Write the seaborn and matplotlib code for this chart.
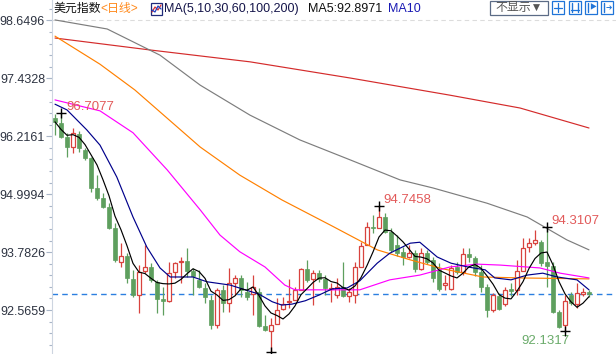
import numpy as np
import pandas as pd
import matplotlib
matplotlib.use('Agg')
import matplotlib.pyplot as plt
import seaborn as sns
from matplotlib.ticker import AutoMinorLocator
from matplotlib.patches import Rectangle
from matplotlib.lines import Line2D

# daily candles, US dollar index
opens = [96.60, 96.50, 96.20, 95.99, 96.27, 95.93, 95.76, 95.13, 94.92, 94.73,
         94.29, 93.58, 93.70, 93.22, 92.88, 93.39, 93.47, 93.16, 92.80, 92.76,
         93.37, 93.57, 93.60, 93.39, 93.20, 93.03, 92.78, 92.25, 92.99, 92.71,
         93.13, 93.24, 92.95, 92.90, 92.95, 92.23, 92.13, 92.27, 92.59, 92.74,
         92.78, 92.99, 93.43, 93.22, 93.34, 93.22, 93.01, 92.88, 93.05, 92.86,
         92.88, 93.47, 93.93, 94.31, 94.29, 94.52, 94.20, 93.93, 93.79, 93.68,
         93.76, 93.43, 93.76, 93.62, 93.41, 93.09, 93.01, 93.47, 93.37, 93.74,
         93.66, 93.37, 93.05, 92.57, 92.86, 92.69, 93.01, 92.99, 93.39, 93.89,
         93.97, 93.99, 93.58, 93.49, 92.52, 92.25, 92.88, 92.69, 92.90, 92.95]
highs = [96.68, 96.7077, 96.29, 96.39, 96.33, 95.97, 95.78, 95.40, 95.03, 94.81,
         94.40, 93.97, 93.76, 93.41, 93.51, 93.93, 93.55, 93.20, 93.05, 93.58,
         93.58, 93.68, 93.87, 93.45, 93.41, 93.13, 92.88, 93.03, 93.09, 93.45,
         93.30, 93.30, 93.16, 93.30, 93.03, 92.46, 92.40, 92.82, 92.84, 93.22,
         93.05, 93.45, 93.62, 93.41, 93.41, 93.30, 93.13, 93.24, 93.58, 93.03,
         93.58, 93.99, 94.42, 94.56, 94.7458, 94.60, 94.29, 94.14, 93.89, 93.93,
         93.83, 93.87, 93.83, 93.68, 93.55, 93.30, 93.51, 93.58, 93.87, 93.87,
         93.70, 93.51, 93.11, 92.92, 92.92, 93.05, 93.13, 93.62, 94.08, 94.08,
         94.25, 94.04, 94.3107, 93.58, 92.57, 92.88, 92.95, 93.13, 93.03, 92.99]
lows = [96.24, 96.18, 95.78, 95.86, 95.89, 95.72, 95.05, 94.88, 94.71, 94.27,
        93.58, 93.47, 93.13, 92.84, 92.50, 93.34, 93.16, 92.50, 92.46, 92.74,
        93.24, 93.13, 93.26, 92.88, 93.03, 92.71, 92.17, 92.19, 92.52, 92.52,
        92.88, 92.84, 92.78, 92.46, 92.21, 92.13, 91.69, 92.27, 92.57, 92.61,
        92.78, 92.99, 93.16, 92.67, 93.16, 92.88, 92.74, 92.82, 92.84, 92.74,
        92.71, 93.47, 93.93, 94.18, 94.29, 94.18, 93.79, 93.70, 93.51, 93.66,
        93.37, 93.41, 93.53, 93.16, 92.97, 92.99, 92.99, 93.32, 93.30, 93.58,
        93.28, 92.95, 92.42, 92.52, 92.57, 92.65, 92.86, 92.88, 93.39, 93.79,
        93.93, 93.49, 93.05, 92.50, 92.19, 92.1317, 92.67, 92.61, 92.86, 92.84]
closes = [96.52, 96.20, 95.99, 96.29, 95.97, 95.76, 95.13, 94.92, 94.73, 94.29,
          93.62, 93.70, 93.24, 92.88, 93.37, 93.47, 93.20, 92.80, 92.76, 93.34,
          93.55, 93.60, 93.39, 93.28, 93.05, 92.84, 92.25, 92.99, 92.71, 93.13,
          93.24, 92.99, 92.84, 93.05, 92.23, 92.15, 92.25, 92.57, 92.69, 92.76,
          92.99, 93.43, 93.20, 93.34, 93.22, 93.03, 93.03, 93.05, 92.86, 92.95,
          93.47, 93.91, 94.31, 94.29, 94.52, 94.20, 93.83, 93.76, 93.68, 93.76,
          93.43, 93.76, 93.58, 93.24, 93.01, 93.13, 93.45, 93.37, 93.74, 93.68,
          93.37, 93.05, 92.57, 92.88, 92.59, 92.99, 92.97, 93.39, 93.87, 93.97,
          94.04, 93.55, 93.49, 92.52, 92.21, 92.76, 92.71, 92.92, 92.95, 92.8971]

# moving-average curves read at points along the chart (candle index, value)
ma10_idx = [0, 2, 5.3, 7.5, 10.3, 13, 15.3, 17.5, 19.2, 23, 25.3, 29.2, 31.2, 34,
            36.2, 37.8, 39.5, 41.7, 44, 46.2, 48.7, 50.8, 53.7, 55.8, 59.2, 60.8,
            63.7, 66, 68.8, 71.7, 73.3, 76, 78.7, 81.3, 83.7, 87, 89]
ma10_val = [96.89, 96.77, 96.35, 96.03, 95.36, 94.52, 93.89, 93.45, 93.26, 93.26,
            93.16, 93.09, 93.01, 92.90, 92.74, 92.67, 92.69, 92.76, 92.88, 93.01,
            93.03, 93.18, 93.55, 93.76, 93.97, 93.99, 93.68, 93.55, 93.47, 93.41,
            93.24, 93.20, 93.30, 93.34, 93.26, 93.20, 92.99]
ma30_idx = [0, 7.5, 13, 18.7, 24.2, 27.5, 30.8, 35, 38.3, 40, 50.8, 55.8, 60.8,
            65.8, 70.3, 74.2, 80.8, 84.2, 89]
ma30_val = [96.98, 96.75, 96.29, 95.51, 94.67, 94.14, 93.79, 93.47, 93.09, 92.99,
            92.99, 93.20, 93.30, 93.47, 93.53, 93.51, 93.45, 93.34, 93.24]
ma60_idx = [0, 7.5, 13.3, 24.2, 30.8, 37.8, 46.2, 53.7, 59.2, 64.7, 71.3, 77.5, 89]
ma60_val = [98.32, 97.73, 97.19, 95.99, 95.40, 94.88, 94.33, 93.83, 93.62, 93.43,
            93.26, 93.24, 93.22]
ma100_idx = [0, 8.7, 17.5, 24.2, 32.5, 40.8, 49.2, 57.5, 63, 72, 78.7, 85.3, 89]
ma100_val = [98.66, 98.47, 97.92, 97.29, 96.66, 96.14, 95.72, 95.30, 95.13, 94.81,
             94.52, 94.04, 93.83]
ma200_idx = [0, 15.8, 32.5, 49.2, 65.8, 77.5, 89]
ma200_val = [98.28, 98.03, 97.78, 97.44, 97.08, 96.81, 96.39]

y_ticks = [98.6496, 97.4328, 96.2161, 94.9994, 93.7826, 92.5659]
last_price = 92.8971
mark_idx = [1, 54, 82, 85, 36]
mark_val = [96.7077, 94.7458, 94.3107, 92.1317, 91.69]

RED = '#d8433e'
GREEN = '#5e9f5e'

sns.set_style('white')
plt.rcParams['font.family'] = ['Liberation Sans', 'Noto Sans CJK SC', 'DejaVu Sans']

W, H = 616, 354
fig = plt.figure(figsize=(W / 100, H / 100), dpi=100)
ax = fig.add_axes([52 / W, 0, (W - 52) / W, 1])

df = pd.DataFrame({'i': np.arange(len(closes)), 'open': opens, 'high': highs,
                   'low': lows, 'close': closes})
df['ma5'] = df['close'].rolling(5, min_periods=1).mean()
up = df['close'] >= df['open']

# candles
ax.vlines(df['i'], df['low'], df['high'], colors=np.where(up, RED, GREEN),
          lw=0.9, zorder=2)
bottom = np.minimum(df['open'], df['close'])
height = np.maximum((df['close'] - df['open']).abs(), 0.015)
ax.bar(df['i'][up], height[up], bottom=bottom[up], width=0.78,
       facecolor='white', edgecolor=RED, lw=0.9, zorder=2.5)
ax.bar(df['i'][~up], height[~up], bottom=bottom[~up], width=0.78,
       facecolor=GREEN, edgecolor=GREEN, lw=0.5, zorder=2.5)

# moving averages
lw = 0.85
sns.lineplot(x=ma200_idx, y=ma200_val, ax=ax, color='#d42b2b', lw=lw, zorder=3)
sns.lineplot(x=ma100_idx, y=ma100_val, ax=ax, color='#7d7d7d', lw=lw, zorder=3)
sns.lineplot(x=ma60_idx, y=ma60_val, ax=ax, color='#ff8000', lw=lw, zorder=3)
sns.lineplot(x=ma30_idx, y=ma30_val, ax=ax, color='#ff00ff', lw=lw, zorder=3)
sns.lineplot(x=ma10_idx, y=ma10_val, ax=ax, color='#00008b', lw=lw, zorder=3)
sns.lineplot(data=df, x='i', y='ma5', ax=ax, color='black', lw=lw, zorder=3.2)

ax.axhline(last_price, color='#2b7fe0', lw=1, ls=(0, (4, 3)), zorder=1.5)
ax.axhline(y_ticks[0], color='#dcdcdc', lw=0.8, ls=(0, (4, 3)), zorder=1)

# extreme markers and labels
ax.plot(mark_idx, mark_val, '+', color='black', ms=7, mew=1, zorder=4)
lab_style = dict(textcoords='offset points', fontsize=9.5, va='center')
ax.annotate(f'{mark_val[0]:.4f}', (mark_idx[0], mark_val[0]), xytext=(3.6, 4.3),
            ha='left', color='#e25a5a', **lab_style)
ax.annotate(f'{mark_val[1]:.4f}', (mark_idx[1], mark_val[1]), xytext=(3, 4.6),
            ha='left', color='#e25a5a', **lab_style)
ax.annotate(f'{mark_val[2]:.4f}', (mark_idx[2], mark_val[2]), xytext=(3.4, 4.2),
            ha='left', color='#e25a5a', **lab_style)
ax.annotate(f'{mark_val[3]:.4f}', (mark_idx[3], mark_val[3]), xytext=(3, -7.2),
            ha='right', color='#6aab6a', **lab_style)

ax.set_xlim(-0.5, 93.5)
ax.set_ylim(91.642, 99.079)
ax.set_yticks(y_ticks)
ax.set_yticklabels([f'{t:.4f}' for t in y_ticks])
ax.yaxis.set_minor_locator(AutoMinorLocator(5))
ax.set_xticks([])
ax.set_xlabel('')
ax.set_ylabel('')
ax.tick_params(axis='y', which='major', length=4, width=0.8, color='#a9b6c8',
               labelsize=9, labelcolor='#2e3442', pad=1, left=True)
ax.tick_params(axis='y', which='minor', length=2, width=0.8, color='#a9b6c8', left=True)
for s in ['top', 'right', 'bottom']:
    ax.spines[s].set_visible(False)
ax.spines['left'].set_color('#cdd5e0')
ax.spines['left'].set_linewidth(0.8)


# header bar (pixel positions)
def fx(x):
    return x / W


def fy(y):
    return 1 - y / H


hy = fy(9)
fig.text(fx(53), hy, '美元指数', fontsize=8.6, color='#111111', va='center')
fig.text(fx(100), hy, '<日线>', fontsize=8.6, color='#ff8a1c', va='center')
fig.text(fx(164), hy, 'MA(5,10,30,60,100,200)', fontsize=9, color='#15154a', va='center')
fig.text(fx(308), hy, 'MA5:92.8971', fontsize=9, color='#111111', va='center')
fig.text(fx(388), hy, 'MA10', fontsize=9, color='#1a1ab4', va='center')

# small chart icon
fig.add_artist(Rectangle((fx(151), fy(15)), 11 / W, 12 / H, transform=fig.transFigure,
                         facecolor='white', edgecolor='#1f2a7a', lw=0.9))
fig.add_artist(Line2D([fx(152), fx(155), fx(158), fx(161)], [fy(12), fy(7), fy(10), fy(5)],
                      transform=fig.transFigure, color='#d83030', lw=0.9))
fig.add_artist(Line2D([fx(152), fx(155), fx(158), fx(161)], [fy(10), fy(12), fy(6), fy(9)],
                      transform=fig.transFigure, color='#2040c0', lw=0.9))

# "不显示" dropdown and tool buttons
fig.add_artist(Rectangle((fx(490), fy(15)), 58 / W, 14 / H, transform=fig.transFigure,
                         facecolor='white', edgecolor='#5b6b86', lw=0.9))
fig.text(fx(519), fy(8), '不显示▼', fontsize=8.6, color='#555555', ha='center', va='center')
BLUE = '#1f74d8'
for bx in [552, 569, 585, 601]:
    fig.add_artist(Rectangle((fx(bx), fy(14)), 12 / W, 13 / H, transform=fig.transFigure,
                             facecolor='white', edgecolor=BLUE, lw=0.9))
fig.add_artist(Line2D([fx(554), fx(562)], [fy(7.5)] * 2, transform=fig.transFigure, color=BLUE, lw=0.9))
fig.add_artist(Line2D([fx(558)] * 2, [fy(3), fy(12)], transform=fig.transFigure, color=BLUE, lw=0.9))
fig.add_artist(Line2D([fx(572)] * 2, [fy(3), fy(12)], transform=fig.transFigure, color=BLUE, lw=1))
fig.add_artist(Line2D([fx(578)] * 2, [fy(3), fy(12)], transform=fig.transFigure, color=BLUE, lw=1))
fig.add_artist(Line2D([fx(571), fx(579)], [fy(10)] * 2, transform=fig.transFigure, color=BLUE, lw=0.9))
fig.add_artist(Line2D([fx(588)] * 2, [fy(3), fy(12)], transform=fig.transFigure, color=BLUE, lw=1))
fig.text(fx(593), fy(8), '▶', fontsize=5, color=BLUE, ha='center', va='center')
fig.add_artist(Line2D([fx(604)] * 2, [fy(3), fy(12)], transform=fig.transFigure, color=BLUE, lw=1))
fig.text(fx(608.5), fy(7.5), '➔', fontsize=5.5, color=BLUE, ha='center', va='center',
         family=['DejaVu Sans'])

fig.savefig('out.png', dpi=100)
